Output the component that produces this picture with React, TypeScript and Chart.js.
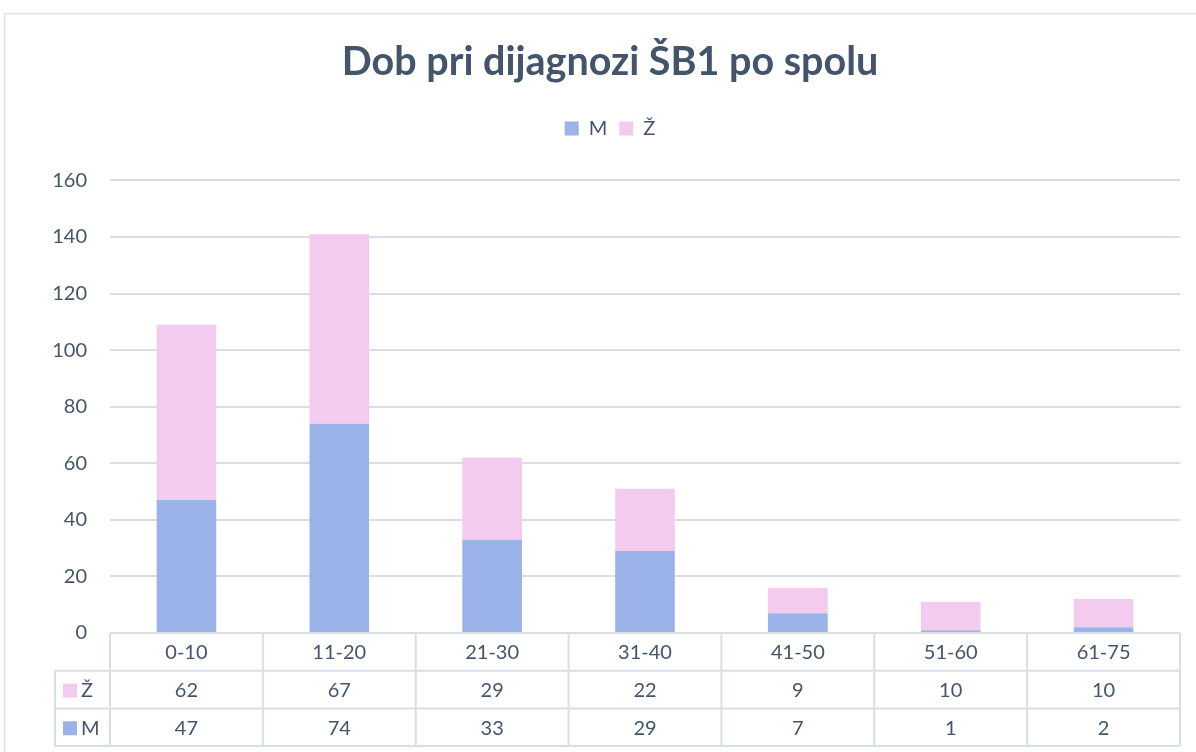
import React, { useEffect, useRef } from "react";
import { Chart, registerables } from "chart.js";

Chart.register(...registerables);

const categories = ["0-10", "11-20", "21-30", "31-40", "41-50", "51-60", "61-75"];
const maleValues = [47, 74, 33, 29, 7, 1, 2];
const femaleValues = [62, 67, 29, 22, 9, 10, 10];
const yTicks = [0, 20, 40, 60, 80, 100, 120, 140, 160];

const TITLE = "Dob pri dijagnozi ŠB1 po spolu";
const FONT = "Lato, 'Open Sans', sans-serif";
const TEXT = "#44546a";
const GRID = "#d9dee6";
const BLUE = "#9bb3e8";
const PINK = "#f3cbee";
const LEGEND_EXTRA = 32;
const HEADER_SHIFT = 20;

const headerPlugin = {
  id: "headerPlugin",
  afterInit(chart: any) {
    const lg = chart.legend;
    if (lg && !lg.__patched) {
      const orig = lg.fit.bind(lg);
      lg.fit = function () {
        orig();
        this.height += LEGEND_EXTRA;
      };
      lg.__patched = true;
    }
  },
  afterLayout(chart: any) {
    const boxes = [chart.legend, chart.titleBlock];
    boxes.forEach((b: any) => {
      if (b) {
        b.left += HEADER_SHIFT;
        b.right += HEADER_SHIFT;
      }
    });
    if (chart.legend && chart.legend.legendHitBoxes) {
      chart.legend.legendHitBoxes.forEach((h: any) => (h.left += HEADER_SHIFT + 3));
    }
  },
};

const tablePlugin = {
  id: "dataTable",
  beforeDraw(chart: any) {
    const { ctx } = chart;
    ctx.save();
    ctx.fillStyle = "#ffffff";
    ctx.fillRect(0, 0, chart.width, chart.height);
    ctx.strokeStyle = "#dfe3e8";
    ctx.lineWidth = 1.5;
    ctx.strokeRect(4.5, 13.5, chart.width + 20, chart.height + 20);
    ctx.restore();
  },
  afterDraw(chart: any) {
    const { ctx, chartArea } = chart;
    const x = chart.scales.x;
    const left = chartArea.left;
    const right = chartArea.right;
    const top = chartArea.bottom;
    const rowH = 37.7;
    const keyLeft = 55;
    const n = categories.length;
    const step = (right - left) / n;
    ctx.save();
    ctx.strokeStyle = GRID;
    ctx.lineWidth = 2;
    ctx.beginPath();
    ctx.moveTo(left, top);
    ctx.lineTo(right, top);
    for (let r = 1; r <= 3; r++) {
      ctx.moveTo(keyLeft, top + rowH * r);
      ctx.lineTo(right, top + rowH * r);
    }
    ctx.moveTo(keyLeft, top + rowH);
    ctx.lineTo(keyLeft, top + rowH * 3);
    for (let i = 0; i <= n; i++) {
      const xx = left + step * i;
      ctx.moveTo(xx, top);
      ctx.lineTo(xx, top + rowH * 3);
    }
    ctx.stroke();

    ctx.font = `20px ${FONT}`;
    ctx.textAlign = "center";
    ctx.textBaseline = "middle";
    const rows = [
      { label: "", color: "", values: categories as (string | number)[] },
      { label: "Ž", color: PINK, values: femaleValues as (string | number)[] },
      { label: "M", color: BLUE, values: maleValues as (string | number)[] },
    ];
    rows.forEach((row, r) => {
      const cy = top + rowH * r + rowH / 2 + 1;
      row.values.forEach((v, i) => {
        const cx = x.getPixelForValue(i);
        ctx.fillStyle = TEXT;
        ctx.fillText(String(v), cx, cy);
      });
      if (row.label) {
        ctx.fillStyle = row.color;
        ctx.fillRect(63, cy - 7, 14, 14);
        ctx.fillStyle = TEXT;
        ctx.textAlign = "left";
        ctx.fillText(row.label, 81, cy);
        ctx.textAlign = "center";
      }
    });
    ctx.restore();
  },
};

export default function App() {
  const ref = useRef<HTMLCanvasElement | null>(null);
  useEffect(() => {
    document.body.style.margin = "0";
    const canvas = ref.current!;
    const chart = new Chart(canvas, {
      type: "bar",
      data: {
        labels: categories,
        datasets: [
          { label: "M", data: maleValues, backgroundColor: BLUE, categoryPercentage: 1, barPercentage: 0.39 },
          { label: "Ž", data: femaleValues, backgroundColor: PINK, categoryPercentage: 1, barPercentage: 0.39 },
        ],
      },
      options: {
        animation: false,
        responsive: false,
        maintainAspectRatio: false,
        layout: { padding: { top: 13, right: 16, bottom: 119, left: 0 } },
        plugins: {
          title: {
            display: true,
            text: TITLE,
            color: TEXT,
            font: { family: FONT, size: 39.5, weight: "bold" },
            padding: { top: 26, bottom: 20 },
          },
          legend: {
            display: true,
            position: "top",
            labels: {
              color: TEXT,
              font: { family: FONT, size: 20 },
              boxWidth: 14,
              boxHeight: 14,
              padding: 12,
            },
          },
          tooltip: { enabled: false },
        },
        scales: {
          x: {
            stacked: true,
            display: false,
          },
          y: {
            stacked: true,
            min: 0,
            max: 160,
            afterBuildTicks: (scale: any) => {
              scale.ticks = yTicks.map((v) => ({ value: v }));
            },
            afterFit: (scale: any) => {
              scale.width = 110;
            },
            border: { display: false },
            grid: { color: GRID, lineWidth: 2, drawTicks: false },
            ticks: {
              color: TEXT,
              font: { family: FONT, size: 20 },
              padding: 23,
            },
          },
        },
      },
      plugins: [headerPlugin, tablePlugin],
    });
    return () => chart.destroy();
  }, []);
  return (
    <div style={{ width: 1196, height: 752 }}>
      <canvas ref={ref} width={1196} height={752} style={{ display: "block" }} />
    </div>
  );
}
